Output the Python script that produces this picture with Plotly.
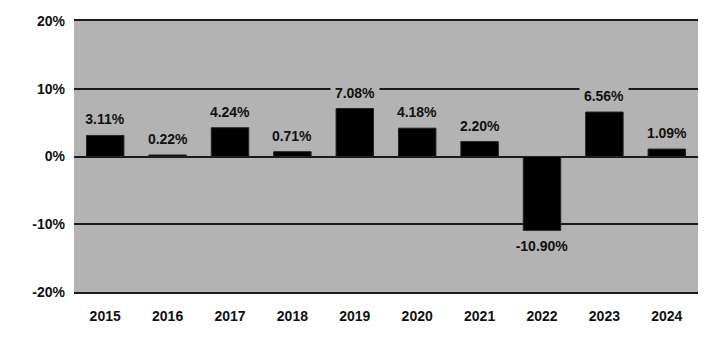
import plotly.graph_objects as go

years = ["2015", "2016", "2017", "2018", "2019", "2020", "2021", "2022", "2023", "2024"]
returns = [3.11, 0.22, 4.24, 0.71, 7.08, 4.18, 2.20, -10.90, 6.56, 1.09]
tick_vals = [-20, -10, 0, 10, 20]
tick_text = ["-20%", "-10%", "0%", "10%", "20%"]

BG = "#b3b3b3"
LINE = "#1a1a1a"
FONT = dict(family="Liberation Sans, Arial, sans-serif", size=14, color="#111111")

fig = go.Figure(go.Bar(
    x=years, y=returns,
    marker=dict(color="#000000", line=dict(color="#222222", width=1)),
    width=0.6,
))

for i, v in enumerate(returns):
    label = f"{v:.2f}%"
    fig.add_annotation(
        x=i, y=v, text=f"<b>{label}</b>", showarrow=False,
        yanchor="bottom" if v >= 0 else "top",
        yshift=5 if v >= 0 else -5,
        bgcolor=BG, borderpad=2, width=max(44, len(label) * 8 + 4), font=FONT,
    )

fig.update_layout(
    width=721, height=338,
    margin=dict(l=74, r=23, t=21, b=46),
    paper_bgcolor="white", plot_bgcolor=BG,
    showlegend=False, font=FONT,
    bargap=0.4,
)
fig.update_yaxes(
    range=[-20, 20], tickvals=tick_vals,
    ticktext=[f"<b>{t}</b>" for t in tick_text],
    showgrid=True, gridcolor=LINE, gridwidth=1.5,
    zeroline=True, zerolinecolor=LINE, zerolinewidth=1.5,
    ticks="", ticklabelstandoff=8, showline=False,
)
fig.update_xaxes(
    type="category", automargin=False, range=[-0.5, len(years) - 0.5],
    tickvals=years, ticktext=[f"<b>{y}</b>" for y in years],
    showgrid=False, ticks="", showline=True, mirror=True,
    linecolor=LINE, linewidth=1.5, ticklabelstandoff=10,
    tickangle=0,
)
fig.write_html("out.html")
